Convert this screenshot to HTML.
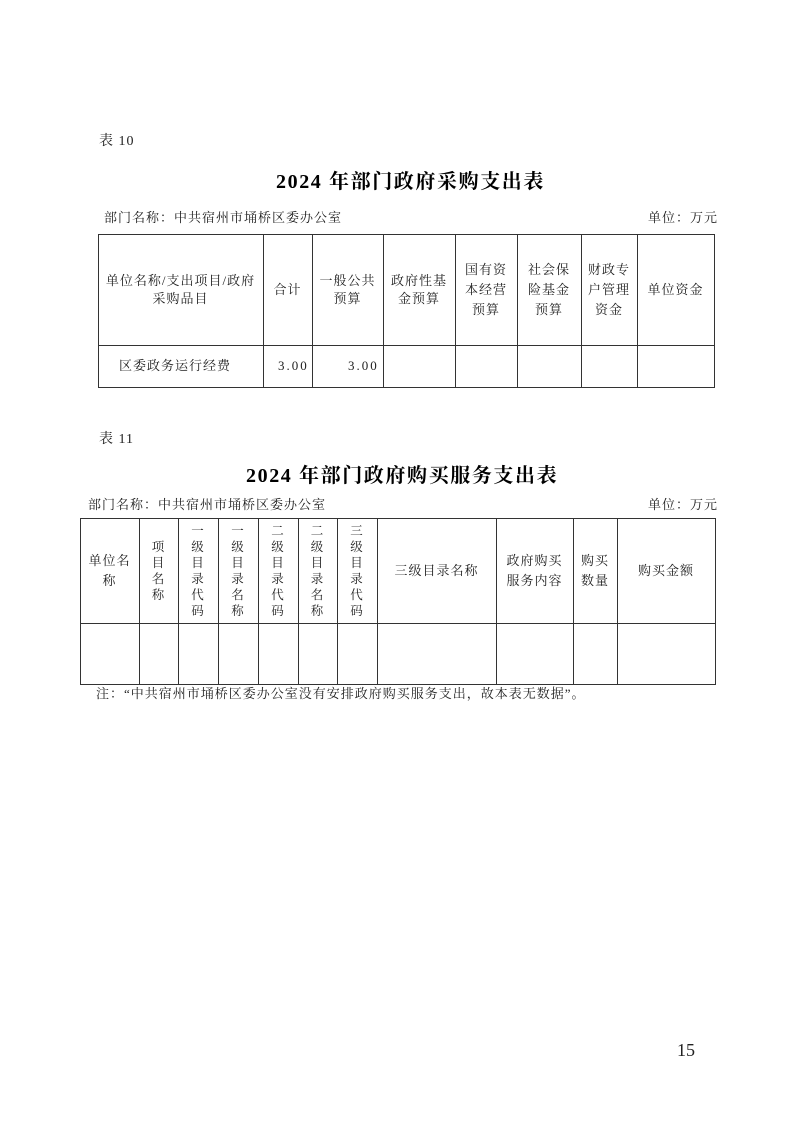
<!DOCTYPE html>
<html><head><meta charset="utf-8">
<style>
body{margin:0;width:793px;height:1122px;position:relative;background:#fff;font-family:"Liberation Serif","Noto Serif CJK SC",serif;color:#222;}
.t{position:absolute;white-space:nowrap;font-size:13px;line-height:16px;letter-spacing:1px;}
.c{position:absolute;display:flex;align-items:center;justify-content:center;text-align:center;font-size:13px;line-height:18px;letter-spacing:1px;}
.v{line-height:16px;font-size:12.5px;}
.h{position:absolute;font-size:20px;font-weight:bold;white-space:nowrap;letter-spacing:1.6px;color:#000;}
.l{position:absolute;background:#333;}
</style></head><body>
<div class="t" style="left:99px;top:134px;font-size:14px;">表 10</div>
<div class="h" style="left:276px;top:165px;">2024 年部门政府采购支出表</div>
<div class="t" style="left:104px;top:210px;">部门名称：中共宿州市埇桥区委办公室</div>
<div class="t" style="left:648px;top:210px;">单位：万元</div>

<div class="l" style="left:98px;top:234px;width:617px;height:1px"></div>
<div class="l" style="left:98px;top:345px;width:617px;height:1px"></div>
<div class="l" style="left:98px;top:387px;width:617px;height:1px"></div>
<div class="l" style="left:98px;top:234px;width:1px;height:154px"></div>
<div class="l" style="left:263px;top:234px;width:1px;height:154px"></div>
<div class="l" style="left:312px;top:234px;width:1px;height:154px"></div>
<div class="l" style="left:383px;top:234px;width:1px;height:154px"></div>
<div class="l" style="left:455px;top:234px;width:1px;height:154px"></div>
<div class="l" style="left:517px;top:234px;width:1px;height:154px"></div>
<div class="l" style="left:581px;top:234px;width:1px;height:154px"></div>
<div class="l" style="left:637px;top:234px;width:1px;height:154px"></div>
<div class="l" style="left:714px;top:234px;width:1px;height:154px"></div>

<div class="c" style="left:98px;top:234px;width:165px;height:111px;">单位名称/支出项目/政府<br>采购品目</div>
<div class="c" style="left:263px;top:234px;width:49px;height:111px;">合计</div>
<div class="c" style="left:312px;top:234px;width:71px;height:111px;">一般公共<br>预算</div>
<div class="c" style="left:383px;top:234px;width:72px;height:111px;">政府性基<br>金预算</div>
<div class="c" style="left:455px;top:234px;width:62px;height:111px;line-height:20px;">国有资<br>本经营<br>预算</div>
<div class="c" style="left:517px;top:234px;width:64px;height:111px;line-height:20px;">社会保<br>险基金<br>预算</div>
<div class="c" style="left:581px;top:234px;width:56px;height:111px;line-height:20px;">财政专<br>户管理<br>资金</div>
<div class="c" style="left:637px;top:234px;width:77px;height:111px;">单位资金</div>

<div class="t" style="left:119px;top:358px;">区委政务运行经费</div>
<div class="t" style="left:278px;top:358px;letter-spacing:2px;">3.00</div>
<div class="t" style="left:348px;top:358px;letter-spacing:2px;">3.00</div>

<div class="t" style="left:99px;top:432px;font-size:14px;">表 11</div>
<div class="h" style="left:246px;top:459px;">2024 年部门政府购买服务支出表</div>
<div class="t" style="left:88px;top:497px;">部门名称：中共宿州市埇桥区委办公室</div>
<div class="t" style="left:648px;top:497px;">单位：万元</div>

<div class="l" style="left:80px;top:518px;width:636px;height:1px"></div>
<div class="l" style="left:80px;top:623px;width:636px;height:1px"></div>
<div class="l" style="left:80px;top:684px;width:636px;height:1px"></div>
<div class="l" style="left:80px;top:518px;width:1px;height:167px"></div>
<div class="l" style="left:139px;top:518px;width:1px;height:167px"></div>
<div class="l" style="left:178px;top:518px;width:1px;height:167px"></div>
<div class="l" style="left:218px;top:518px;width:1px;height:167px"></div>
<div class="l" style="left:258px;top:518px;width:1px;height:167px"></div>
<div class="l" style="left:298px;top:518px;width:1px;height:167px"></div>
<div class="l" style="left:337px;top:518px;width:1px;height:167px"></div>
<div class="l" style="left:377px;top:518px;width:1px;height:167px"></div>
<div class="l" style="left:496px;top:518px;width:1px;height:167px"></div>
<div class="l" style="left:573px;top:518px;width:1px;height:167px"></div>
<div class="l" style="left:617px;top:518px;width:1px;height:167px"></div>
<div class="l" style="left:715px;top:518px;width:1px;height:167px"></div>

<div class="c" style="left:80px;top:518px;width:59px;height:105px;line-height:20px;">单位名<br>称</div>
<div class="c v" style="left:139px;top:518px;width:39px;height:105px;">项<br>目<br>名<br>称</div>
<div class="c v" style="left:178px;top:518px;width:40px;height:105px;">一<br>级<br>目<br>录<br>代<br>码</div>
<div class="c v" style="left:218px;top:518px;width:40px;height:105px;">一<br>级<br>目<br>录<br>名<br>称</div>
<div class="c v" style="left:258px;top:518px;width:40px;height:105px;">二<br>级<br>目<br>录<br>代<br>码</div>
<div class="c v" style="left:298px;top:518px;width:39px;height:105px;">二<br>级<br>目<br>录<br>名<br>称</div>
<div class="c v" style="left:337px;top:518px;width:40px;height:105px;">三<br>级<br>目<br>录<br>代<br>码</div>
<div class="c" style="left:377px;top:518px;width:119px;height:105px;">三级目录名称</div>
<div class="c" style="left:496px;top:518px;width:77px;height:105px;line-height:20px;">政府购买<br>服务内容</div>
<div class="c" style="left:573px;top:518px;width:44px;height:105px;line-height:20px;">购买<br>数量</div>
<div class="c" style="left:617px;top:518px;width:98px;height:105px;">购买金额</div>

<div class="t" style="left:96px;top:686px;">注：“中共宿州市埇桥区委办公室没有安排政府购买服务支出，故本表无数据”。</div>

<div class="t" style="left:677px;top:1040px;font-size:18px;line-height:20px;letter-spacing:0;">15</div>
</body></html>
